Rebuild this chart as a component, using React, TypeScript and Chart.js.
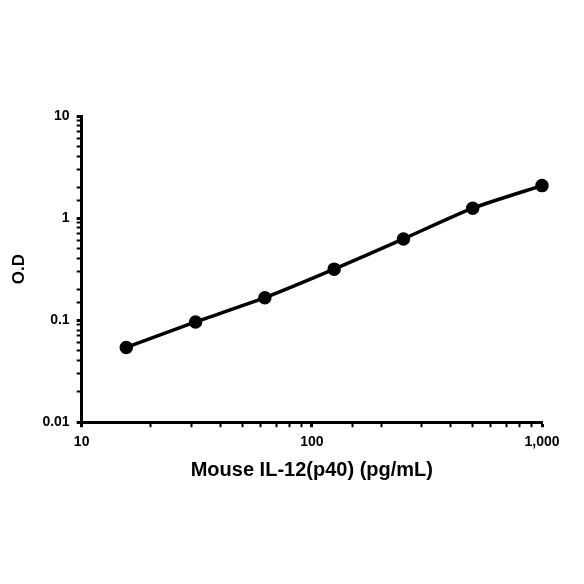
import React, { useEffect, useRef } from "react";
import { Chart, registerables } from "chart.js";

Chart.register(...registerables);

const concentrations = [15.625, 31.25, 62.5, 125, 250, 500, 1000];
const odValues = [0.054, 0.096, 0.166, 0.316, 0.625, 1.25, 2.08];
const xLabelTitle = "Mouse IL-12(p40) (pg/mL)";
const yLabelTitle = "O.D";

const isPow10 = (v: number) => {
  const l = Math.log10(v);
  return Math.abs(l - Math.round(l)) < 1e-9;
};

export default function App() {
  const ref = useRef<HTMLCanvasElement | null>(null);
  useEffect(() => {
    document.body.style.margin = "0";
    const ctx = ref.current!;
    const tickFont = { family: "'Liberation Sans', Arial, sans-serif", size: 14, weight: "bold" as const };
    const titleFont = { family: "'Liberation Sans', Arial, sans-serif", size: 20, weight: "bold" as const };
    const yTitleFont = { family: "'Liberation Sans', Arial, sans-serif", size: 17, weight: "bold" as const };
    const chart = new Chart(ctx, {
      type: "line",
      data: {
        datasets: [
          {
            data: concentrations.map((x, i) => ({ x, y: odValues[i] })),
            borderColor: "#000",
            backgroundColor: "#000",
            borderWidth: 3.5,
            pointRadius: 5,
            pointHoverRadius: 5,
            tension: 0.2,
            clip: false as any,
          },
        ],
      },
      options: {
        animation: false,
        responsive: false,
        maintainAspectRatio: false,
        plugins: { legend: { display: false }, tooltip: { enabled: false } },
        layout: { padding: { top: 116, right: 42, bottom: 102, left: 9 } },
        scales: {
          x: {
            type: "logarithmic",
            min: 10,
            max: 1000,
            border: { display: true, color: "#000", width: 3 },
            grid: {
              drawOnChartArea: false,
              drawTicks: true,
              tickLength: 5,
              tickColor: "#000",
              tickWidth: (c: any) => (c.tick && isPow10(c.tick.value) ? 3 : 2),
            },
            ticks: {
              autoSkip: false,
              maxRotation: 0,
              color: "#000",
              font: tickFont,
              padding: 7,
              callback: (v: any) => (isPow10(Number(v)) ? Number(v).toLocaleString("en-US") : ""),
            },
            title: { display: true, text: xLabelTitle, color: "#000", font: titleFont, padding: { top: 0, bottom: 0 } },
          },
          y: {
            type: "logarithmic",
            min: 0.01,
            max: 10,
            border: { display: true, color: "#000", width: 3 },
            grid: {
              drawOnChartArea: false,
              drawTicks: true,
              tickLength: 5,
              tickColor: "#000",
              tickWidth: (c: any) => (c.tick && isPow10(c.tick.value) ? 3 : 2),
            },
            ticks: {
              autoSkip: false,
              color: "#000",
              font: tickFont,
              padding: 7,
              callback: (v: any) => (isPow10(Number(v)) ? String(Number(v)) : ""),
            },
            title: { display: true, text: yLabelTitle, color: "#000", font: yTitleFont, padding: { top: 0, bottom: 6 } },
          },
        },
      },
    });
    return () => chart.destroy();
  }, []);
  return (
    <div style={{ width: 584, height: 584, background: "#fff" }}>
      <canvas ref={ref} width={584} height={584} style={{ width: 584, height: 584 }} />
    </div>
  );
}
